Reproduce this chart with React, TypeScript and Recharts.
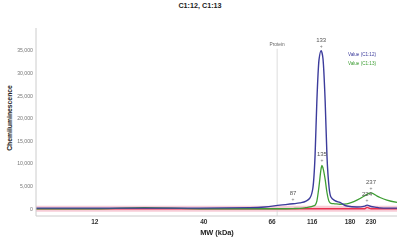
import {
  LineChart,
  Line,
  XAxis,
  YAxis,
  ReferenceLine,
  ReferenceDot,
  ReferenceArea,
  Legend,
} from "recharts";

// migration position along the capillary (0-100), shared by all traces
const migration = [
  0, 17.7, 30, 45.4, 59.3, 63.4, 67.6, 71.2, 73.1, 74.8, 75.9, 76.7, 77.3, 77.8, 78.4, 79.0, 79.2,
  79.5, 80.1, 80.6, 81.2, 81.7, 82.8, 84.2, 86.1, 88.9, 91.1, 91.7, 92.8, 94.5, 95.3, 97.2, 100,
];
const valueC112 = [
  150, 150, 150, 150, 250, 400, 800, 1100, 1300, 1700, 2400, 4600, 11700, 23800, 33000, 35000, 34600,
  33200, 23800, 11700, 4600, 2600, 1800, 1400, 600, 400, 600, 800, 500, 300, 200, 150, 150,
];
const valueC113 = [
  0, 0, 250, 0, 0, 0, 0, 50, 100, 250, 400, 600, 800, 1700, 5000, 9000, 9600,
  9000, 6500, 3600, 1600, 1200, 1100, 1000, 1100, 1900, 2900, 3200, 3500, 2800, 2500, 1900, 1400,
];
const valueRef = [
  0, 0, 0, 0, 0, 0, 0, 0, 0, 0, 0, 0, 0, 0, 0, 0, 0,
  0, 0, 0, 0, 0, 0, 0, 0, 0, 0, 300, 0, 0, 0, 0, 0,
];

const mwTickPos = [16.3, 46.5, 65.4, 76.5, 87.0, 92.8];
const mwTickLabels = ["12", "40", "66", "116", "180", "230"];
const yTicks = [0, 5000, 10000, 15000, 20000, 25000, 30000, 35000];

const peakPos = [71.2, 79.0, 79.2, 92.8, 91.7];
const peakValue = [1100, 35000, 9600, 3500, 800];
const peakText = ["87", "133", "135", "237", "224"];

const proteinPos = 66.8;

const data = migration.map((m, i) => ({
  m,
  c112: valueC112[i],
  c113: valueC113[i],
  ref: valueRef[i],
}));

const font = "'Liberation Sans', Arial, sans-serif";

function PeakMark({ cx, cy, text }: { cx?: number; cy?: number; text: string }) {
  if (cx == null || cy == null) return null;
  return (
    <g fontFamily={font}>
      <text x={cx} y={cy - 3} textAnchor="middle" fontSize={5} fill="#777">+</text>
      <text x={cx} y={cy - 9} textAnchor="middle" fontSize={6} fill="#555">{text}</text>
    </g>
  );
}

function LegendBox({ payload }: { payload?: Array<{ value: string; color: string; dataKey?: string }> }) {
  const items = (payload ?? [])
    .filter((p) => p.dataKey !== "ref")
    .sort((a, b) => a.value.localeCompare(b.value));
  return (
    <div style={{ fontFamily: font, fontSize: 4.6, lineHeight: "9px" }}>
      {items.map((p) => (
        <div key={p.value} style={{ color: p.color }}>{p.value}</div>
      ))}
    </div>
  );
}

export default function App() {
  return (
    <div style={{ position: "fixed", left: 0, top: 0, width: 400, height: 240, background: "#fff", fontFamily: font }}>
      <div style={{ position: "absolute", left: 0, top: 1, width: 400, textAlign: "center", fontSize: 7.2, fontWeight: 700, color: "#222" }}>
        C1:12, C1:13
      </div>
      <div
        style={{
          position: "absolute",
          left: 9,
          top: 118,
          transform: "translate(-50%, -50%) rotate(-90deg)",
          fontSize: 6.8,
          fontWeight: 700,
          color: "#222",
          whiteSpace: "nowrap",
        }}
      >
        Chemiluminescence
      </div>
      <div style={{ position: "absolute", left: 0, top: 228, width: 434, textAlign: "center", fontSize: 7.4, fontWeight: 700, color: "#222" }}>
        MW (kDa)
      </div>

      <LineChart width={400} height={240} data={data} margin={{ top: 10, right: 3, left: 0, bottom: 0 }}>
        <XAxis
          dataKey="m"
          type="number"
          domain={[0, 100]}
          ticks={mwTickPos}
          tickFormatter={(v: number) => mwTickLabels[mwTickPos.indexOf(v)] ?? ""}
          tick={{ fontSize: 6.5, fontWeight: 700, fill: "#333", fontFamily: font }}
          tickLine={false}
          tickSize={0}
          tickMargin={3}
          axisLine={{ stroke: "#ccc" }}
          height={24}
        />
        <YAxis
          domain={[-1600, 40000]}
          ticks={yTicks}
          tickFormatter={(v: number) => v.toLocaleString("en-US")}
          tick={{ fontSize: 5.2, fill: "#777", fontFamily: font }}
          tickLine={false}
          tickSize={0}
          tickMargin={3}
          axisLine={{ stroke: "#ccc" }}
          width={36}
          allowDataOverflow
        />
        <ReferenceArea y1={-650} y2={650} fill="#f4b8c6" fillOpacity={0.7} stroke="none" />
        <ReferenceLine
          segment={[{ x: proteinPos, y: 35400 }, { x: proteinPos, y: -1600 }]}
          stroke="#d4d4d4"
          strokeWidth={0.8}
        />
        <ReferenceDot
          x={proteinPos}
          y={36500}
          r={0}
          shape={(p: any) => (
            <text x={p.cx} y={p.cy + 2} textAnchor="middle" fontSize={4.8} fill="#666" fontFamily={font}>Protein</text>
          )}
        />
        <Legend
          verticalAlign="top"
          align="right"
          content={(props: any) => <LegendBox payload={props.payload} />}
          wrapperStyle={{ position: "absolute", top: 50, left: 348, width: 50 }}
        />
        <Line dataKey="ref" type="monotone" stroke="#e8304f" strokeWidth={1.4} dot={false} legendType="none" isAnimationActive={false} />
        <Line dataKey="c113" name="Value (C1:13)" type="monotone" stroke="#3e9e34" strokeWidth={1.3} dot={false} isAnimationActive={false} />
        <Line dataKey="c112" name="Value (C1:12)" type="monotone" stroke="#3c3c9c" strokeWidth={1.4} dot={false} isAnimationActive={false} />
        {peakPos.map((x, i) => (
          <ReferenceDot
            key={peakText[i]}
            x={x}
            y={peakValue[i]}
            r={0}
            shape={(p: any) => <PeakMark cx={p.cx} cy={p.cy} text={peakText[i]} />}
          />
        ))}
      </LineChart>
    </div>
  );
}
